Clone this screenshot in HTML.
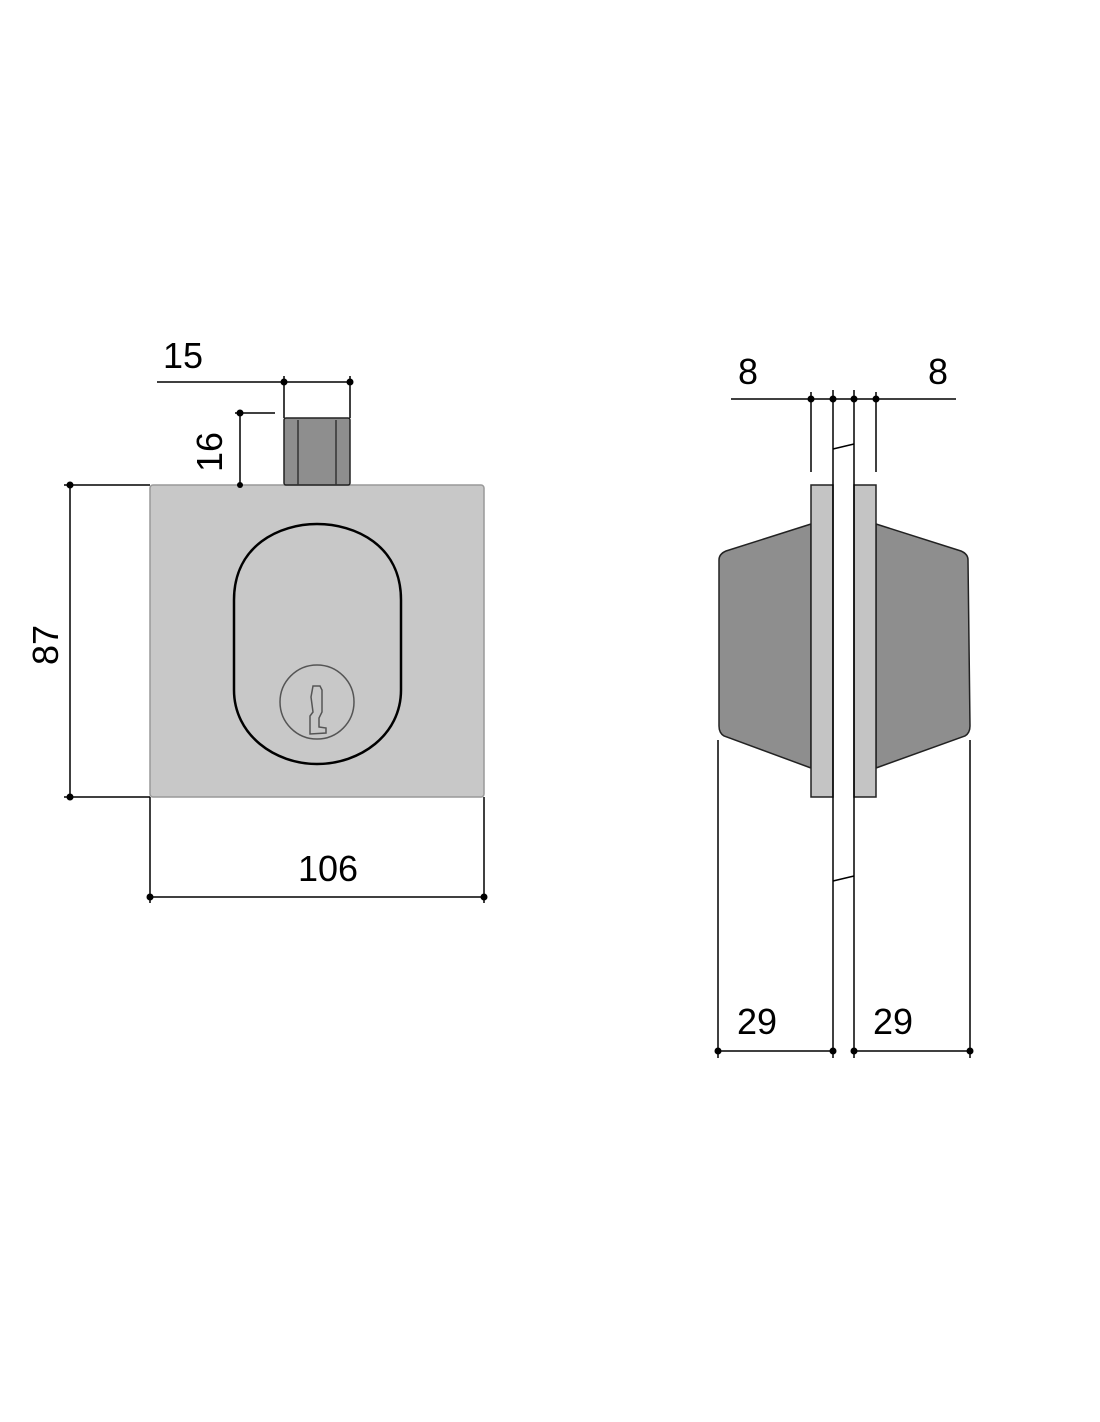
<!DOCTYPE html>
<html><head><style>html,body{margin:0;padding:0;background:#fff}svg{display:block}</style></head><body>
<svg width="1100" height="1422" viewBox="0 0 1100 1422" xmlns="http://www.w3.org/2000/svg" font-family="Liberation Sans, sans-serif" font-size="36" fill="#000">
<g stroke="#000" stroke-width="1.5" fill="none">
<!-- left view -->
<rect x="150" y="485" width="334" height="312" rx="3" fill="#c8c8c8" stroke="#999"/>
<rect x="284" y="418" width="66" height="67" rx="2" fill="#8e8e8e" stroke="#222"/>
<line x1="298" y1="420" x2="298" y2="485" stroke="#333"/>
<line x1="336" y1="420" x2="336" y2="485" stroke="#333"/>
<path d="M234 600 C234 545 280 524 317 524 C355 524 401 545 401 600 L401 690 C401 735 360 764 317 764 C275 764 234 735 234 690 Z" stroke-width="2.5"/>
<circle cx="317" cy="702" r="37" stroke="#555"/>
<path d="M313 686 L320 686 L322 690 L322 712 L319 718 L319 727 L326 728 L326 733 L310 734 L310 716 L313 712 L311 697 Z" stroke="#555"/>
<!-- dims left -->
<line x1="157" y1="382" x2="350" y2="382"/>
<line x1="284" y1="376" x2="284" y2="418"/>
<line x1="350" y1="376" x2="350" y2="418"/>
<line x1="235" y1="413" x2="275" y2="413"/>
<line x1="240" y1="413" x2="240" y2="485"/>
<line x1="64" y1="485" x2="150" y2="485"/>
<line x1="64" y1="797" x2="150" y2="797"/>
<line x1="70" y1="485" x2="70" y2="797"/>
<line x1="150" y1="797" x2="150" y2="903"/>
<line x1="484" y1="797" x2="484" y2="903"/>
<line x1="150" y1="897" x2="484" y2="897"/>
<!-- right view -->
<path d="M811 524 L726 551 Q719 554 719 560 L719 726 Q719 733 724 736 L811 768 Z" fill="#8e8e8e" stroke="#222"/>
<path d="M876 524 L961 551 Q968 554 968 560 L970 726 Q970 733 965 736 L876 768 Z" fill="#8e8e8e" stroke="#222"/>
<rect x="811" y="485" width="22" height="312" fill="#c4c4c4" stroke="#222"/>
<rect x="854" y="485" width="22" height="312" fill="#c4c4c4" stroke="#222"/>
<line x1="833" y1="390" x2="833" y2="1058"/>
<line x1="854" y1="390" x2="854" y2="1058"/>
<line x1="833" y1="449" x2="854" y2="444"/>
<line x1="833" y1="881" x2="854" y2="876"/>
<line x1="731" y1="399" x2="956" y2="399"/>
<line x1="811" y1="392" x2="811" y2="472"/>
<line x1="876" y1="392" x2="876" y2="472"/>
<line x1="718" y1="740" x2="718" y2="1058"/>
<line x1="970" y1="740" x2="970" y2="1058"/>
<line x1="718" y1="1051" x2="833" y2="1051"/>
<line x1="854" y1="1051" x2="970" y2="1051"/>
</g>
<g fill="#000">
<circle cx="284" cy="382" r="3.5"/><circle cx="350" cy="382" r="3.5"/>
<circle cx="240" cy="413" r="3.5"/><circle cx="240" cy="485" r="3"/>
<circle cx="70" cy="485" r="3.5"/><circle cx="70" cy="797" r="3.5"/>
<circle cx="150" cy="897" r="3.5"/><circle cx="484" cy="897" r="3.5"/>
<circle cx="811" cy="399" r="3.5"/><circle cx="833" cy="399" r="3.5"/><circle cx="854" cy="399" r="3.5"/><circle cx="876" cy="399" r="3.5"/>
<circle cx="718" cy="1051" r="3.5"/><circle cx="833" cy="1051" r="3.5"/><circle cx="854" cy="1051" r="3.5"/><circle cx="970" cy="1051" r="3.5"/>
</g>
<text x="183" y="368" text-anchor="middle">15</text>
<text transform="translate(222,452) rotate(-90)" text-anchor="middle">16</text>
<text transform="translate(58,645) rotate(-90)" text-anchor="middle">87</text>
<text x="328" y="881" text-anchor="middle">106</text>
<text x="748" y="384" text-anchor="middle">8</text>
<text x="938" y="384" text-anchor="middle">8</text>
<text x="757" y="1034" text-anchor="middle">29</text>
<text x="893" y="1034" text-anchor="middle">29</text>
</svg>
</body></html>
